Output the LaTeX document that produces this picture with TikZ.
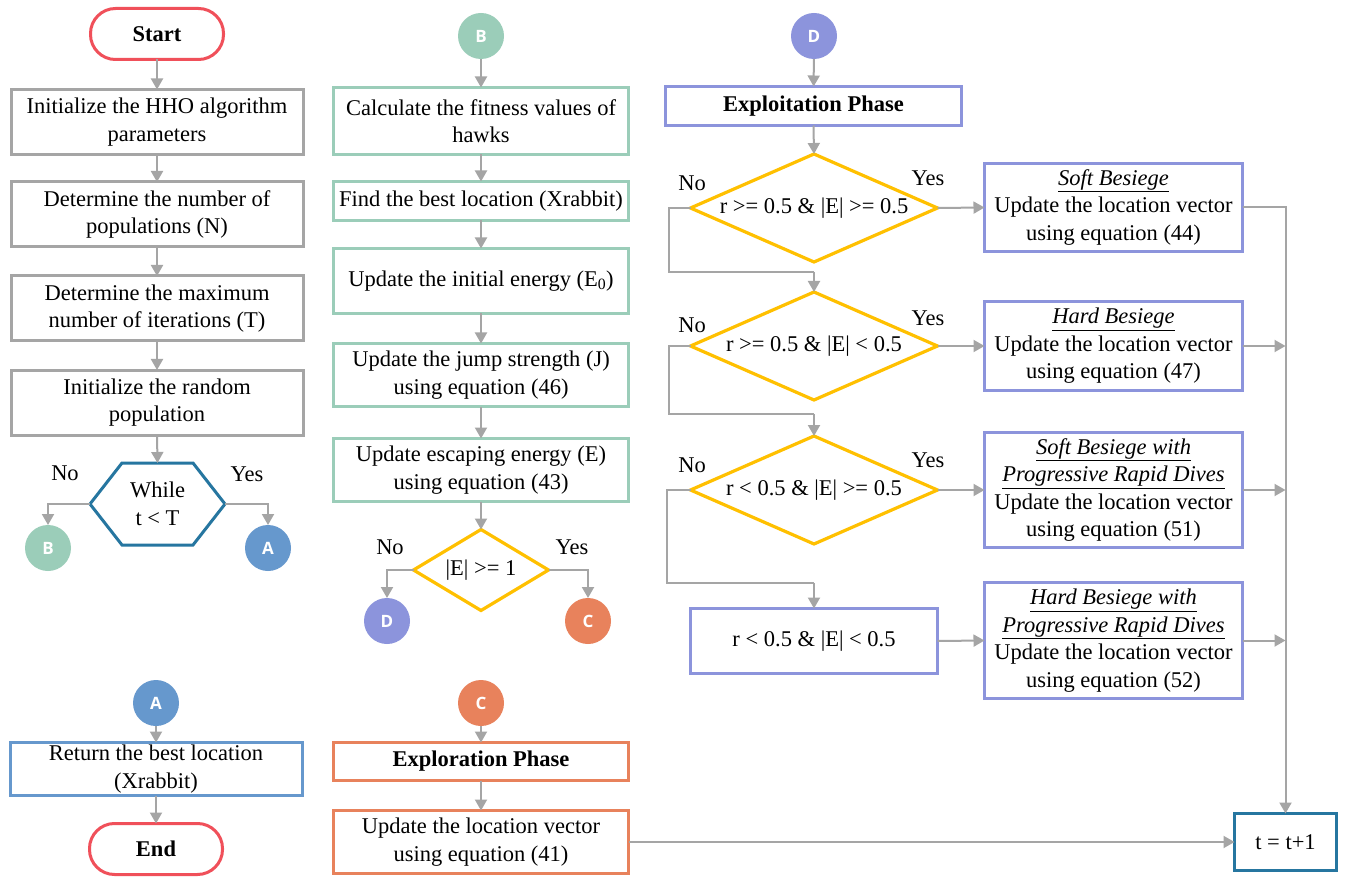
\documentclass[tikz,border=0pt]{standalone}
\usepackage{fontspec}
\setmainfont{Liberation Serif}
\newfontfamily\circfont{Open Sans}
\usetikzlibrary{arrows.meta,shapes.geometric,calc}
\definecolor{cred}{RGB}{240,80,90}
\definecolor{cgray}{RGB}{165,165,165}
\definecolor{cgreen}{RGB}{155,205,185}
\definecolor{cyel}{RGB}{255,192,0}
\definecolor{cpur}{RGB}{140,148,220}
\definecolor{corg}{RGB}{232,130,92}
\definecolor{cblue}{RGB}{102,152,205}
\definecolor{cteal}{RGB}{38,118,160}
\newcommand{\fs}{\fontsize{22.5}{27.5}\selectfont}
\begin{document}
\begin{tikzpicture}[x=1pt,y=-1pt,
  every node/.style={font=\fs, inner sep=0pt, outer sep=0pt},
  bx/.style={draw=#1, line width=3pt, fill=white, align=center, rectangle},
  term/.style={draw=cred, line width=3pt, fill=white, rounded corners=25pt,
     minimum width=133pt, minimum height=51pt, font=\fs\bfseries},
  circ/.style={circle, fill=#1, minimum size=46pt, text=white, font=\fontsize{17}{20}\selectfont\circfont\bfseries},
  dia/.style={diamond, draw=cyel, line width=3.2pt, fill=white},
  arr/.style={draw=cgray, line width=2pt, -{Triangle[length=11pt,width=12pt]}},
  ln/.style={draw=cgray, line width=2pt},
  lbl/.style={font=\fs}
]
\useasboundingbox (0,0) rectangle (1347,877);
\fill[white] (0,0) rectangle (1347,877);

% ---------- column 1 ----------
\node[term] (start) at (157,34) {Start};
\node[bx=cgray, minimum width=292pt, minimum height=65pt] (b1) at (157,122) {Initialize the HHO algorithm\\parameters};
\node[bx=cgray, minimum width=292pt, minimum height=65pt] (b2) at (157,214.5) {Determine the number of\\populations (N)};
\node[bx=cgray, minimum width=292pt, minimum height=65pt] (b3) at (157,308.5) {Determine the maximum\\number of iterations (T)};
\node[bx=cgray, minimum width=292pt, minimum height=65pt] (b4) at (157,402.5) {Initialize the random\\population};
\node[minimum width=135pt, minimum height=82pt, align=center] (hex) at (157.5,504) {While\\t < T};
\draw[draw=cteal, line width=3pt] (hex.west) -- ($(hex.north west)+(32,0)$) -- ($(hex.north east)+(-32,0)$) -- (hex.east) -- ($(hex.south east)+(-32,0)$) -- ($(hex.south west)+(32,0)$) -- cycle;
\node[circ=cgreen] (cB1) at (48,548) {B};
\node[circ=cblue] (cA1) at (268,548) {A};
\node[lbl] (no0) at (65,473) {No};
\node[lbl] (yes0) at (247,474) {Yes};

\draw[arr] (start) -- (b1);
\draw[arr] (b1) -- (b2);
\draw[arr] (b2) -- (b3);
\draw[arr] (b3) -- (b4);
\draw[arr] (b4.south) -- (hex.north);
\draw[arr] (hex.west) -| (cB1.north);
\draw[arr] (hex.east) -| (cA1.north);

% ---------- column 2 ----------
\node[circ=cgreen] (cB2) at (481,36) {B};
\node[bx=cgreen, minimum width=295pt, minimum height=67pt] (g1) at (481,121) {Calculate the fitness values of\\hawks};
\node[bx=cgreen, minimum width=295pt, minimum height=39pt] (g2) at (481,201) {Find the best location (Xrabbit)};
\node[bx=cgreen, minimum width=295pt, minimum height=65pt] (g3) at (481,281) {Update the initial energy (E\textsubscript{0})};
\node[bx=cgreen, minimum width=295pt, minimum height=63pt] (g4) at (481,375) {Update the jump strength (J)\\using equation (46)};
\node[bx=cgreen, minimum width=295pt, minimum height=63pt] (g5) at (481,470) {Update escaping energy (E)\\using equation (43)};
\node[dia, minimum width=135pt, minimum height=81pt] (dE) at (481,570) {\makebox[0pt]{|E| >= 1}};
\node[circ=cpur] (cD1) at (387,621) {D};
\node[circ=corg] (cC1) at (588,621) {C};
\node[lbl] (no1) at (390,547) {No};
\node[lbl] (yes1) at (572,547) {Yes};

\draw[arr] (cB2) -- (g1);
\draw[arr] (g1) -- (g2);
\draw[arr] (g2) -- (g3);
\draw[arr] (g3) -- (g4);
\draw[arr] (g4) -- (g5);
\draw[arr] (g5.south) -- (dE.north);
\draw[arr] (dE.west) -| (cD1.north);
\draw[arr] (dE.east) -| (cC1.north);

% ---------- bottom ----------
\node[circ=cblue] (cA2) at (156,703) {A};
\node[bx=cblue, minimum width=292pt, minimum height=53pt] (ret) at (156,769) {Return the best location\\(Xrabbit)};
\node[term] (end) at (156,849) {End};
\draw[arr] (cA2) -- (ret);
\draw[arr] (ret) -- (end);

\node[circ=corg] (cC2) at (481,703) {C};
\node[bx=corg, minimum width=295pt, minimum height=38pt, font=\fs\bfseries] (exp) at (481,761.5) {Exploration Phase};
\node[bx=corg, minimum width=295pt, minimum height=63pt] (upd) at (481,842) {Update the location vector\\using equation (41)};
\draw[arr] (cC2) -- (exp);
\draw[arr] (exp) -- (upd);

% ---------- column 3 ----------
\node[circ=cpur] (cD2) at (814,36) {D};
\node[bx=cpur, minimum width=296pt, minimum height=39pt, font=\fs\bfseries] (expl) at (813.5,106) {Exploitation Phase};
\node[dia, minimum width=247pt, minimum height=108pt] (d1) at (814,208) {\makebox[0pt]{r >= 0.5 \& |E| >= 0.5}};
\node[dia, minimum width=247pt, minimum height=108pt] (d2) at (814,346) {\makebox[0pt]{r >= 0.5 \& |E| < 0.5}};
\node[dia, minimum width=247pt, minimum height=108pt] (d3) at (814,490) {\makebox[0pt]{r < 0.5 \& |E| >= 0.5}};
\node[bx=cpur, minimum width=247pt, minimum height=65pt] (bq) at (814,641) {r < 0.5 \& |E| < 0.5};
\node[lbl] (no2) at (692,183) {No};
\node[lbl] (yes2) at (928,178) {Yes};
\node[lbl] (no3) at (692,325) {No};
\node[lbl] (yes3) at (928,318) {Yes};
\node[lbl] (no4) at (692,465) {No};
\node[lbl] (yes4) at (928,460) {Yes};

\node[bx=cpur, minimum width=258pt, minimum height=88pt] (r1) at (1113.5,207.5) {\underline{\textit{Soft Besiege}}\\Update the location vector\\using equation (44)};
\node[bx=cpur, minimum width=258pt, minimum height=89pt] (r2) at (1113.5,346) {\underline{\textit{Hard Besiege}}\\Update the location vector\\using equation (47)};
\node[bx=cpur, minimum width=258pt, minimum height=115pt] (r3) at (1113.5,490) {\underline{\textit{Soft Besiege with}}\\\underline{\textit{Progressive Rapid Dives}}\\Update the location vector\\using equation (51)};
\node[bx=cpur, minimum width=258pt, minimum height=116pt] (r4) at (1113.5,640.5) {\underline{\textit{Hard Besiege with}}\\\underline{\textit{Progressive Rapid Dives}}\\Update the location vector\\using equation (52)};
\node[bx=cteal, minimum width=102pt, minimum height=57pt] (tb) at (1285.5,842) {t = t+1};

\coordinate (n1) at (814,272);
\coordinate (n2) at (814,414);
\coordinate (n3) at (814,583);
\draw[ln] (d1.west) -- ++(-22,0) |- (n1);
\draw[arr] (n1) -- (d2.north);
\draw[ln] (d2.west) -- ++(-22,0) |- (n2);
\draw[arr] (n2) -- (d3.north);
\draw[ln] (d3.west) -- ++(-24,0) |- (n3);
\draw[arr] (n3) -- (bq.north);

\draw[arr] (cD2) -- (expl);
\draw[arr] (expl.south) -- (d1.north);
\draw[arr] (d1.east) -- (r1.west);
\draw[arr] (d2.east) -- (r2.west);
\draw[arr] (d3.east) -- (r3.west);
\draw[arr] (bq.east) -- (r4.west);

\draw[arr] (r1.east) -| (tb.north);
\draw[arr] (r2.east) -- (r2.east -| tb.north);
\draw[arr] (r3.east) -- (r3.east -| tb.north);
\draw[arr] (r4.east) -- (r4.east -| tb.north);
\draw[arr] (upd.east) -- (tb.west);
\end{tikzpicture}
\end{document}
